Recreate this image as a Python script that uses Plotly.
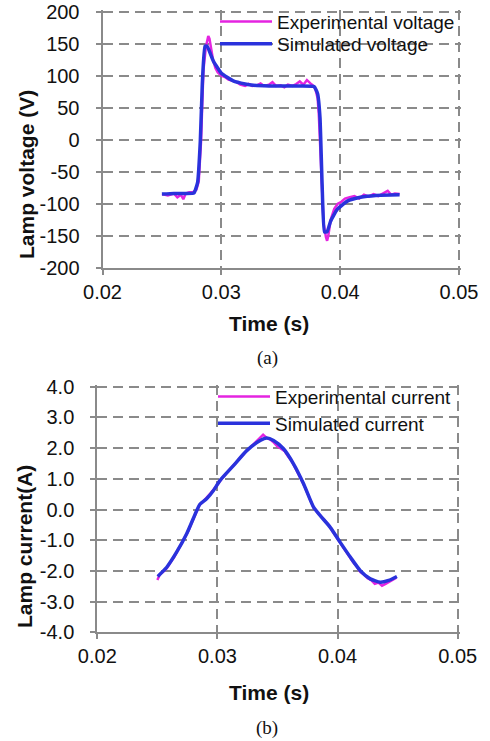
import plotly.graph_objects as go

# ---------------- data ----------------
t_volt_exp = [0.0250, 0.0255, 0.0260, 0.0263, 0.0266, 0.0268, 0.0270, 0.0273, 0.0276, 0.0279,
              0.0281, 0.0282, 0.0283, 0.0284, 0.0285, 0.0287, 0.0289, 0.0290, 0.0291, 0.0293,
              0.0295, 0.0297, 0.0300, 0.0303, 0.0306, 0.0310, 0.0313, 0.0316, 0.0320, 0.0323,
              0.0326, 0.0330, 0.0333, 0.0336, 0.0340, 0.0343, 0.0346, 0.0350, 0.0353, 0.0356,
              0.0360, 0.0363, 0.0366, 0.0369, 0.0372, 0.0375, 0.0377, 0.0379, 0.0381, 0.0382,
              0.0383, 0.0384, 0.0385, 0.0386, 0.0388, 0.0389, 0.0390, 0.0392, 0.0395, 0.0398,
              0.0401, 0.0404, 0.0408, 0.0412, 0.0416, 0.0420, 0.0424, 0.0428, 0.0432, 0.0436,
              0.0440, 0.0443, 0.0446, 0.0450]
v_exp = [-85, -87, -84, -90, -86, -93, -84, -82, -82, -78,
         -65, -40, 0, 60, 110, 145, 162, 158, 145, 125,
         112, 105, 100, 98, 94, 92, 90, 86, 84, 87,
         84, 85, 88, 84, 86, 90, 84, 85, 82, 86,
         84, 87, 91, 86, 93, 88, 85, 80, 65, 40,
         0, -50, -90, -130, -152, -158, -150, -125, -108, -100,
         -97, -92, -90, -88, -92, -86, -89, -85, -88, -84,
         -80, -86, -84, -85]

t_volt_sim = [0.0250, 0.0260, 0.0270, 0.0277, 0.0280, 0.02823, 0.0284, 0.02862, 0.0288, 0.02935,
              0.0300, 0.0310, 0.0320, 0.0327, 0.0340, 0.0355, 0.0367, 0.0378, 0.0381, 0.0383,
              0.03848, 0.03868, 0.0389, 0.03918, 0.03975, 0.0406, 0.0417, 0.0430, 0.0450]
v_sim = [-85, -84, -84, -83, -67, -2, 88, 146, 146, 122,
         104, 92, 87, 85, 84, 84, 84, 83, 72, 35,
         -70, -144, -144, -128, -109, -96, -90, -87, -86]

t_curr_exp = [0.0250, 0.0252, 0.0255, 0.0258, 0.0261, 0.0264, 0.0267, 0.0270, 0.0273, 0.0276,
              0.0279, 0.0282, 0.0285, 0.0288, 0.0291, 0.0294, 0.0297, 0.0300, 0.0304, 0.0308,
              0.0312, 0.0316, 0.0320, 0.0324, 0.0328, 0.0332, 0.0335, 0.0338, 0.0341, 0.0344,
              0.0347, 0.0350, 0.0353, 0.0356, 0.0359, 0.0362, 0.0365, 0.0368, 0.0371, 0.0374,
              0.0377, 0.0380, 0.0383, 0.0386, 0.0389, 0.0392, 0.0395, 0.0398, 0.0401, 0.0404,
              0.0407, 0.0410, 0.0413, 0.0416, 0.0419, 0.0422, 0.0425, 0.0428, 0.0431, 0.0434,
              0.0437, 0.0440, 0.0443, 0.0446, 0.0449]
i_exp = [-2.30, -2.12, -2.02, -1.90, -1.72, -1.55, -1.33, -1.12, -0.92, -0.68,
         -0.40, -0.12, 0.14, 0.26, 0.38, 0.52, 0.66, 0.82, 1.02, 1.20,
         1.38, 1.55, 1.74, 1.90, 2.05, 2.22, 2.34, 2.44, 2.33, 2.28,
         2.18, 2.05, 1.98, 1.90, 1.72, 1.57, 1.34, 1.12, 0.88, 0.61,
         0.33, 0.06, -0.09, -0.22, -0.37, -0.47, -0.66, -0.84, -1.03, -1.17,
         -1.38, -1.54, -1.72, -1.86, -2.04, -2.12, -2.24, -2.30, -2.42, -2.38,
         -2.48, -2.42, -2.36, -2.28, -2.22]

t_curr_sim = [0.02503, 0.02578, 0.0266, 0.02744, 0.02828, 0.02856, 0.0291, 0.02967, 0.03022, 0.03133,
              0.03244, 0.03356, 0.03411, 0.03467, 0.0355, 0.03633, 0.03717, 0.0380, 0.03856, 0.03939,
              0.04022, 0.04106, 0.04189, 0.04272, 0.04356, 0.04425, 0.04494]
i_sim = [-2.18, -1.88, -1.39, -0.79, -0.03, 0.18, 0.35, 0.62, 0.95, 1.43,
         1.92, 2.25, 2.33, 2.25, 1.98, 1.49, 0.84, 0.08, -0.20, -0.58,
         -1.07, -1.55, -1.99, -2.26, -2.37, -2.31, -2.18]

x_ticks = [0.02, 0.03, 0.04, 0.05]
x_tick_text = ["0.02", "0.03", "0.04", "0.05"]
v_ticks = [200, 150, 100, 50, 0, -50, -100, -150, -200]
v_tick_text = ["200", "150", "100", "50", "0", "-50", "-100", "-150", "-200"]
i_ticks = [4, 3, 2, 1, 0, -1, -2, -3, -4]
i_tick_text = ["4.0", "3.0", "2.0", "1.0", "0.0", "-1.0", "-2.0", "-3.0", "-4.0"]

# ---------------- style ----------------
PINK = "#E424E0"
BLUE = "#2A32DC"
GRID = "#8A8A8A"
FONT = "Liberation Sans, Arial, sans-serif"
W, H = 490, 741

fig = go.Figure()
fig.add_trace(go.Scatter(x=t_volt_exp, y=v_exp, mode="lines", name="Experimental voltage",
                         line=dict(color=PINK, width=2.5), xaxis="x", yaxis="y", legend="legend"))
fig.add_trace(go.Scatter(x=t_volt_sim, y=v_sim, mode="lines", name="Simulated voltage",
                         line=dict(color=BLUE, width=3.5, shape="spline", smoothing=0.4),
                         xaxis="x", yaxis="y", legend="legend2"))
fig.add_trace(go.Scatter(x=t_curr_exp, y=i_exp, mode="lines", name="Experimental current",
                         line=dict(color=PINK, width=2.5), xaxis="x2", yaxis="y2", legend="legend3"))
fig.add_trace(go.Scatter(x=t_curr_sim, y=i_sim, mode="lines", name="Simulated current",
                         line=dict(color=BLUE, width=3.5, shape="spline", smoothing=0.6),
                         xaxis="x2", yaxis="y2", legend="legend4"))

def px_x(p):
    return p / W

def px_y(p):
    return 1 - p / H

axis_common = dict(showline=True, linecolor=GRID, linewidth=2, mirror=False, automargin=False,
                   showgrid=True, gridcolor=GRID, gridwidth=2, griddash="10px,6px",
                   ticks="outside", ticklen=5, tickwidth=2, tickcolor=GRID,
                   zeroline=False, tickfont=dict(family=FONT, size=20, color="#111"))

# small range pad so the far-edge dashed gridlines (0.05, top value) are drawn
fig.update_layout(
    width=W, height=H,
    margin=dict(l=0, r=0, t=0, b=0, autoexpand=False),
    paper_bgcolor="white", plot_bgcolor="white",
    xaxis=dict(domain=[px_x(102.5), px_x(461.4)], range=[0.02, 0.0502], tickvals=x_ticks,
               ticktext=x_tick_text, anchor="y", ticklabelstandoff=0, **axis_common),
    yaxis=dict(domain=[px_y(267.7), px_y(9.8)], range=[-200, 203], tickvals=v_ticks,
               ticktext=v_tick_text, anchor="x", ticklabelstandoff=12, **axis_common),
    xaxis2=dict(domain=[px_x(97.3), px_x(460.1)], range=[0.02, 0.0502], tickvals=x_ticks,
                ticktext=x_tick_text, anchor="y2", ticklabelstandoff=0, **axis_common),
    yaxis2=dict(domain=[px_y(632.3), px_y(384.9)], range=[-4, 4.06], tickvals=i_ticks,
                ticktext=i_tick_text, anchor="x2", ticklabelstandoff=12, **axis_common),
    showlegend=True,
)

leg_common = dict(bgcolor="rgba(0,0,0,0)", borderwidth=0, xanchor="left", yanchor="middle",
                  itemwidth=52, font=dict(family=FONT, size=19, color="#111"))
fig.update_layout(
    legend=dict(x=px_x(215), y=px_y(21.7), **leg_common),
    legend2=dict(x=px_x(215), y=px_y(44), **leg_common),
    legend3=dict(x=px_x(213), y=px_y(396.7), **leg_common),
    legend4=dict(x=px_x(213), y=px_y(423.3), **leg_common),
)

bold = dict(family=FONT, size=21, color="#111")
ann = [
    dict(text="<b>Time (s)</b>", x=px_x(269), y=px_y(323), font=bold),
    dict(text="<b>Lamp voltage (V)</b>", x=px_x(26), y=px_y(175), font=bold, textangle=-90),
    dict(text="(a)", x=px_x(267), y=px_y(358), font=dict(family="Liberation Serif, Times New Roman, serif", size=19, color="#111")),
    dict(text="<b>Time (s)</b>", x=px_x(269), y=px_y(692), font=bold),
    dict(text="<b>Lamp current(A)</b>", x=px_x(24), y=px_y(547), font=bold, textangle=-90),
    dict(text="(b)", x=px_x(267), y=px_y(728), font=dict(family="Liberation Serif, Times New Roman, serif", size=19, color="#111")),
]
for a in ann:
    a.update(xref="paper", yref="paper", showarrow=False, xanchor="center", yanchor="middle")
fig.update_layout(annotations=ann)

fig.write_html("out.html")
